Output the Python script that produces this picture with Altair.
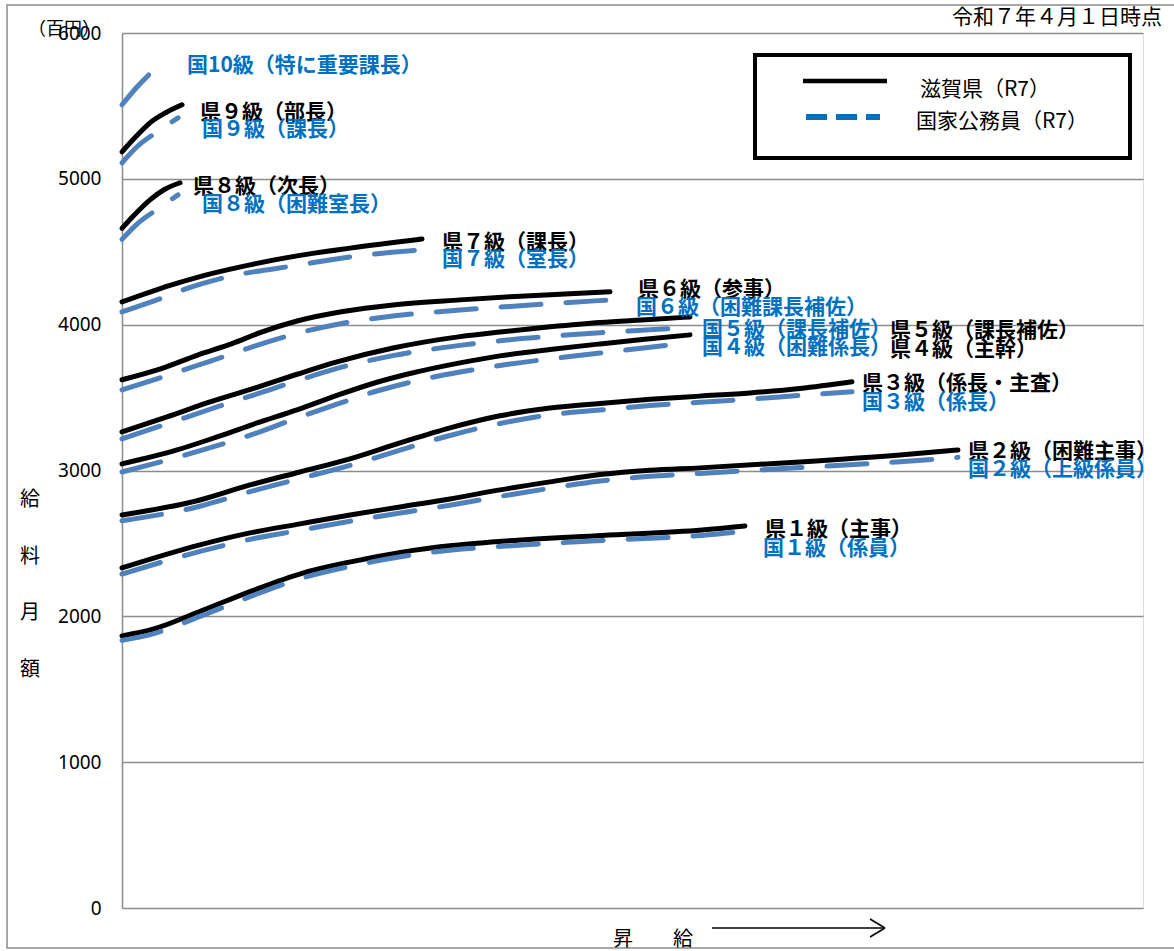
import altair as alt
import pandas as pd

# --- salary curves (x = step position along 昇給, y = 給料月額 in 百円) ---
ken1_x = [0, 30, 80, 130, 180, 230, 280, 330, 380, 480, 580, 623]
ken1_y = [1866, 1910, 2040, 2175, 2295, 2375, 2440, 2485, 2515, 2555, 2592, 2620]
kuni1_x = [0, 30, 80, 130, 180, 230, 280, 330, 380, 480, 580, 623]
kuni1_y = [1835, 1878, 2005, 2140, 2262, 2345, 2410, 2455, 2480, 2520, 2555, 2583]

ken2_x = [0, 78, 128, 178, 228, 278, 328, 378, 428, 478, 528, 578, 678, 778, 836]
ken2_y = [2332, 2490, 2572, 2634, 2695, 2750, 2805, 2867, 2922, 2972, 3002, 3018, 3059, 3107, 3141]
kuni2_x = [0, 78, 128, 178, 228, 278, 328, 378, 428, 478, 528, 578, 678, 778, 836]
kuni2_y = [2290, 2445, 2528, 2590, 2652, 2708, 2762, 2822, 2878, 2928, 2960, 2980, 3020, 3060, 3090]

ken3_x = [0, 78, 128, 178, 228, 278, 328, 378, 428, 478, 528, 578, 628, 678, 730]
ken3_y = [2695, 2798, 2901, 2990, 3080, 3189, 3292, 3375, 3428, 3460, 3488, 3510, 3532, 3562, 3608]
kuni3_x = [0, 78, 128, 178, 228, 278, 328, 378, 428, 478, 528, 578, 628, 678, 730]
kuni3_y = [2655, 2755, 2855, 2945, 3035, 3140, 3240, 3322, 3382, 3415, 3445, 3468, 3490, 3515, 3540]

ken4_x = [0, 55, 95, 135, 175, 215, 255, 288, 338, 378, 428, 478, 528, 568]
ken4_y = [3045, 3141, 3230, 3326, 3416, 3515, 3605, 3665, 3738, 3786, 3830, 3868, 3903, 3930]
kuni4_x = [0, 55, 95, 135, 175, 215, 255, 288, 338, 378, 428, 478, 528, 568]
kuni4_y = [2990, 3090, 3170, 3258, 3360, 3455, 3545, 3605, 3675, 3720, 3765, 3805, 3845, 3875]

ken5_x = [0, 45, 88, 135, 175, 215, 271, 338, 378, 428, 478, 528, 568]
ken5_y = [3265, 3368, 3470, 3570, 3660, 3745, 3840, 3918, 3950, 3985, 4015, 4035, 4053]
kuni5_x = [0, 45, 88, 135, 175, 215, 271, 338, 378, 428, 478, 528, 568]
kuni5_y = [3217, 3320, 3420, 3525, 3615, 3700, 3788, 3858, 3890, 3920, 3945, 3965, 3980]

ken6_x = [0, 40, 75, 110, 138, 175, 221, 271, 338, 388, 438, 488]
ken6_y = [3622, 3700, 3790, 3870, 3945, 4025, 4090, 4135, 4170, 4192, 4208, 4225]
kuni6_x = [0, 40, 75, 110, 138, 175, 221, 271, 338, 388, 438, 488]
kuni6_y = [3553, 3640, 3720, 3800, 3865, 3940, 4010, 4060, 4100, 4125, 4148, 4170]

ken7_x = [0, 48, 78, 128, 178, 228, 300]
ken7_y = [4156, 4270, 4330, 4410, 4475, 4525, 4588]
kuni7_x = [0, 45, 66, 101, 178, 228, 300]
kuni7_y = [4088, 4195, 4250, 4320, 4410, 4465, 4513]

ken8_x = [0, 12, 28, 42, 58]
ken8_y = [4660, 4750, 4856, 4925, 4973]
kuni8_x = [0, 15, 35, 56]
kuni8_y = [4585, 4690, 4790, 4890]

ken9_x = [0, 14, 28, 44, 60]
ken9_y = [5185, 5290, 5384, 5455, 5508]
kuni9_x = [0, 15, 35, 56]
kuni9_y = [5110, 5220, 5322, 5418]

kuni10_x = [0, 15, 32]
kuni10_y = [5508, 5630, 5748]

# --- curve labels: text, anchor step, anchor value ---
label_text = [
    "国10級（特に重要課長）", "県９級（部長）", "国９級（課長）",
    "県８級（次長）", "国８級（困難室長）", "県７級（課長）", "国７級（室長）",
    "県６級（参事）", "国６級（困難課長補佐）", "国５級（課長補佐）",
    "国４級（困難係長）", "県５級（課長補佐）", "県４級（主幹）",
    "県３級（係長・主査）", "国３級（係長）", "県２級（困難主事）",
    "国２級（上級係員）", "県１級（主事）", "国１級（係員）",
]
label_x = [65, 78, 80, 71, 80, 320, 320, 516, 514, 580, 580, 768, 768, 740, 740, 846, 846, 643, 641]
label_y = [5774, 5452, 5335, 4944, 4821, 4560, 4443, 4238, 4114, 3963, 3840,
           3957, 3826, 3593, 3463, 3127, 3003, 2592, 2462]

y_ticks = [0, 1000, 2000, 3000, 4000, 5000, 6000]

BLACK = "#000000"
LINE_BLUE = "#4F81BD"
TEXT_BLUE = "#0070C0"
GRID = "#8c8c8c"
JP = "Noto Sans CJK JP"

series = [
    ("県１級", "県", ken1_x, ken1_y), ("国１級", "国", kuni1_x, kuni1_y),
    ("県２級", "県", ken2_x, ken2_y), ("国２級", "国", kuni2_x, kuni2_y),
    ("県３級", "県", ken3_x, ken3_y), ("国３級", "国", kuni3_x, kuni3_y),
    ("県４級", "県", ken4_x, ken4_y), ("国４級", "国", kuni4_x, kuni4_y),
    ("県５級", "県", ken5_x, ken5_y), ("国５級", "国", kuni5_x, kuni5_y),
    ("県６級", "県", ken6_x, ken6_y), ("国６級", "国", kuni6_x, kuni6_y),
    ("県７級", "県", ken7_x, ken7_y), ("国７級", "国", kuni7_x, kuni7_y),
    ("県８級", "県", ken8_x, ken8_y), ("国８級", "国", kuni8_x, kuni8_y),
    ("県９級", "県", ken9_x, ken9_y), ("国９級", "国", kuni9_x, kuni9_y),
    ("国10級", "国", kuni10_x, kuni10_y),
]
rows = []
for name, kind, xs, ys in series:
    for x, y in zip(xs, ys):
        rows.append({"series": name, "kind": kind, "step": x, "value": y})
lines_df = pd.DataFrame(rows)

labels_df = pd.DataFrame({
    "text": label_text, "step": label_x, "value": label_y,
    "kind": [t[0] for t in label_text],
})

W, H = 1021, 875
x_scale = alt.Scale(domain=[0, 1021], nice=False, zero=False)
y_scale = alt.Scale(domain=[0, 6000], nice=False)

base = alt.Chart(lines_df).encode(
    x=alt.X("step:Q", scale=x_scale, axis=None),
    y=alt.Y("value:Q", scale=y_scale, axis=alt.Axis(
        values=y_ticks, format="d", title=None, grid=True, gridColor=GRID,
        gridWidth=1.5, domainColor=GRID, domainWidth=1.5, ticks=False, tickSize=0,
        labelFont="Noto Sans", labelFontSize=19, labelColor="#000000",
        labelPadding=21)),
    detail="series:N",
)

ken_lines = base.transform_filter(alt.datum.kind == "県").mark_line(
    color=BLACK, strokeWidth=5, strokeCap="round", strokeJoin="round",
    interpolate="monotone")
kuni_lines = base.transform_filter(alt.datum.kind == "国").mark_line(
    color=LINE_BLUE, strokeWidth=5, strokeCap="round", strokeJoin="round",
    strokeDash=[40, 25], interpolate="monotone")

labels = alt.Chart(labels_df).mark_text(
    align="left", baseline="middle", font=JP, fontSize=21, fontWeight="bold"
).encode(
    x=alt.X("step:Q", scale=x_scale),
    y=alt.Y("value:Q", scale=y_scale),
    text="text:N",
    color=alt.Color("kind:N", scale=alt.Scale(domain=["県", "国"], range=[BLACK, TEXT_BLUE]),
                    legend=None),
)

# --- frame, legend box and free text around the plot (pixel positions) ---
one = pd.DataFrame({"k": [0]})


def pix_text(txt, x, y, size=19, align="left", weight="normal", color="#000000"):
    return alt.Chart(one).mark_text(
        text=txt, align=align, baseline="middle", font=JP, fontSize=size,
        fontWeight=weight, color=color
    ).encode(x=alt.value(x), y=alt.value(y))


def pix_rule(x1, y1, x2, y2, color="#000000", width=1.5, dash=None, cap="butt"):
    kw = dict(color=color, strokeWidth=width, strokeCap=cap)
    if dash:
        kw["strokeDash"] = dash
    return alt.Chart(one).mark_rule(**kw).encode(
        x=alt.value(x1), x2=alt.value(x2), y=alt.value(y1), y2=alt.value(y2))


frame = alt.Chart(one).mark_rect(filled=False, stroke=GRID, strokeWidth=1.5).encode(
    x=alt.value(-115), x2=alt.value(1070), y=alt.value(-28), y2=alt.value(915))

legend_box = alt.Chart(one).mark_rect(fill="white", stroke=BLACK, strokeWidth=4).encode(
    x=alt.value(633), x2=alt.value(1008), y=alt.value(22), y2=alt.value(125))

legend_parts = [
    legend_box,
    pix_rule(681, 48, 765, 48, color=BLACK, width=4.5),
    pix_rule(684, 84, 758, 84, color=TEXT_BLUE, width=6, dash=[21, 9]),
    pix_text("滋賀県（R7）", 798, 57, size=21),
    pix_text("国家公務員（R7）", 794, 89, size=21),
]

outer_text = [
    pix_text("令和７年４月１日時点", 1040, -15, size=21, align="right"),
    pix_text("（百円）", -94, -3, size=18),
    pix_text("給", -92, 467, size=20, align="center"),
    pix_text("料", -92, 524, size=20, align="center"),
    pix_text("月", -92, 580, size=20, align="center"),
    pix_text("額", -92, 637, size=20, align="center"),
    pix_text("昇　　給", 491, 907, size=20),
    pix_rule(590, 895, 763, 895, width=1.5),
    pix_rule(748, 886, 763, 895, width=1.5),
    pix_rule(748, 904, 763, 895, width=1.5),
]

chart = alt.layer(
    frame, ken_lines, kuni_lines, labels, *legend_parts, *outer_text
).properties(
    width=W, height=H,
    autosize=alt.AutoSizeParams(type="none"),
    padding={"left": 122, "top": 33, "right": 31, "bottom": 43},
).configure_view(stroke=None).configure(background="white")

chart.save("out.html", embed_options={"renderer": "svg", "actions": False})
